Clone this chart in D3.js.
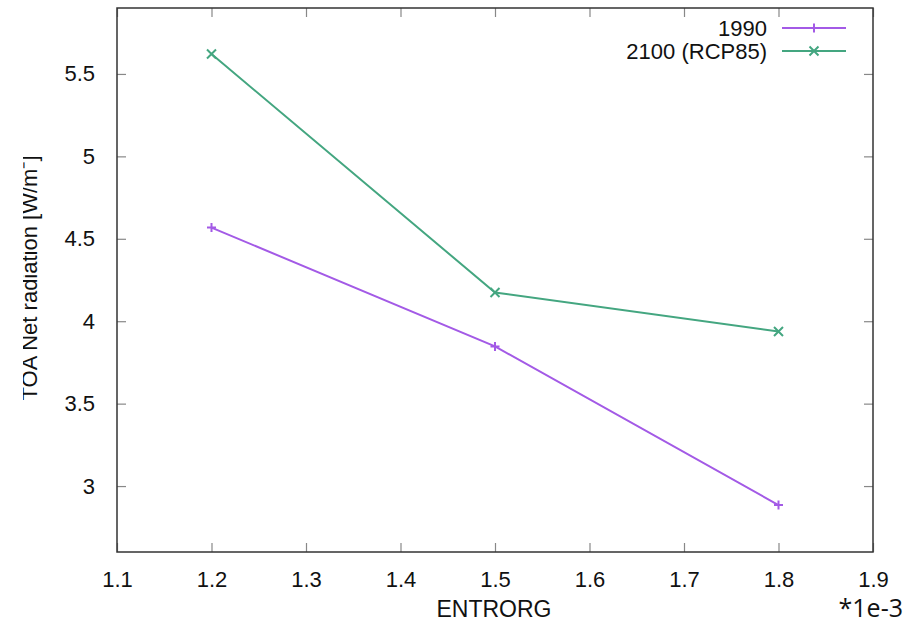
<!DOCTYPE html>
<html>
<head>
<meta charset="utf-8">
<script src="https://cdn.jsdelivr.net/npm/d3@7"></script>
<style>
  body { margin: 0; background: #fff; }
  text { font-family: "Liberation Sans", Arial, sans-serif; }
</style>
</head>
<body>
<div id="chart"></div>
<script>
// values
const entrorg = [1.2, 1.5, 1.8];
const rad1990 = [4.568, 3.847, 2.885];
const rad2100 = [5.621, 4.174, 3.938];
const seriesNames = ["1990", "2100 (RCP85)"];
const xTicks = [1.1, 1.2, 1.3, 1.4, 1.5, 1.6, 1.7, 1.8, 1.9];
const yTicks = [3, 3.5, 4, 4.5, 5, 5.5];

const width = 915, height = 624;
const margin = {top: 8, right: 42, bottom: 72, left: 117};
const plotW = width - margin.left - margin.right;
const plotH = height - margin.top - margin.bottom;

const svg = d3.select("#chart").append("svg")
    .attr("width", width)
    .attr("height", height);

const x = d3.scaleLinear().domain([1.1, 1.9]).range([0, plotW]);
const y = d3.scaleLinear().domain([2.6, 5.9]).range([plotH, 0]);

const g = svg.append("g").attr("transform", `translate(${margin.left},${margin.top})`);

// inward ticks on all four sides (gnuplot style)
const tickLen = 9;
function styleAxis(sel) {
    sel.select(".domain").remove();
    sel.selectAll(".tick line").attr("stroke", "#888").attr("stroke-width", 1.2);
}
g.append("g").attr("transform", `translate(0,${plotH})`)
    .call(d3.axisBottom(x).tickValues(xTicks).tickSize(-tickLen).tickPadding(19).tickFormat(d3.format(".1f")))
    .call(styleAxis)
    .selectAll("text").attr("font-size", 22).attr("fill", "#111");
g.append("g")
    .call(d3.axisTop(x).tickValues(xTicks).tickSize(-tickLen).tickFormat(""))
    .call(styleAxis);
g.append("g")
    .call(d3.axisLeft(y).tickValues(yTicks).tickSize(-tickLen).tickPadding(22).tickFormat(d => d3.format("")(d)))
    .call(styleAxis)
    .selectAll("text").attr("font-size", 22).attr("fill", "#111");
g.append("g").attr("transform", `translate(${plotW},0)`)
    .call(d3.axisRight(y).tickValues(yTicks).tickSize(-tickLen).tickFormat(""))
    .call(styleAxis);

g.append("rect")
    .attr("width", plotW).attr("height", plotH)
    .attr("fill", "none").attr("stroke", "#333").attr("stroke-width", 1.5);

const colors = ["#a35ae6", "#44a680"];
const series = [rad1990, rad2100];

const line = d3.line().x((d, i) => x(entrorg[i])).y(d => y(d));

function marker(sel, idx, cx, cy) {
    const s = 4.5;
    const p = idx === 0
        ? `M${cx - s},${cy}H${cx + s}M${cx},${cy - s}V${cy + s}`
        : `M${cx - s},${cy - s}L${cx + s},${cy + s}M${cx - s},${cy + s}L${cx + s},${cy - s}`;
    sel.append("path").attr("d", p).attr("stroke", colors[idx]).attr("stroke-width", 2).attr("fill", "none");
}

series.forEach((vals, k) => {
    g.append("path").datum(vals)
        .attr("d", line)
        .attr("fill", "none")
        .attr("stroke", colors[k])
        .attr("stroke-width", 2);
    vals.forEach((v, i) => marker(g, k, x(entrorg[i]), y(v)));
});

// legend
const leg = svg.append("g");
seriesNames.forEach((name, k) => {
    const ly = 28 + k * 23;
    leg.append("text").attr("x", 767).attr("y", ly + 8)
        .attr("text-anchor", "end").attr("font-size", 22).attr("fill", "#111").text(name);
    leg.append("line").attr("x1", 782).attr("x2", 846).attr("y1", ly).attr("y2", ly)
        .attr("stroke", colors[k]).attr("stroke-width", 2);
    marker(leg, k, 814, ly);
});

// axis titles
svg.append("text")
    .attr("x", margin.left + plotW / 2 - 1).attr("y", 617)
    .attr("text-anchor", "middle").attr("font-size", 23).attr("fill", "#111")
    .text("ENTRORG");

// the y title is cut at its top edge in the original picture
svg.append("defs").append("clipPath").attr("id", "ylabClip")
    .append("rect").attr("x", 23).attr("y", 0).attr("width", 80).attr("height", height);
svg.append("g").attr("clip-path", "url(#ylabClip)")
    .append("text")
    .attr("transform", `translate(36.5,${margin.top + plotH / 2 - 2}) rotate(-90)`)
    .attr("text-anchor", "middle").attr("font-size", 22).attr("fill", "#111")
    .text("TOA Net radiation [W/m\u207B]");

svg.append("text")
    .attr("x", 903).attr("y", 617)
    .attr("text-anchor", "end").attr("font-size", 25).attr("fill", "#111")
    .style("font-family", "'Open Sans', 'Noto Sans', sans-serif")
    .text("*1e-3");
</script>
</body>
</html>
